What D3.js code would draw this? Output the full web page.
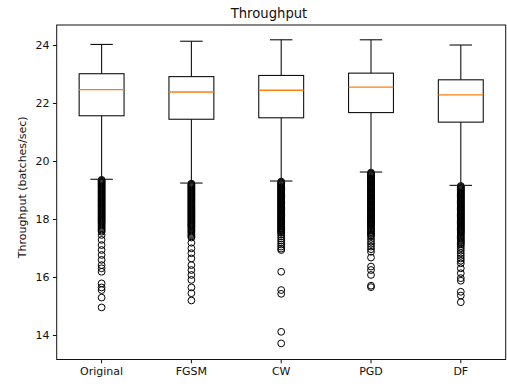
<!DOCTYPE html>
<html>
<head>
<meta charset="utf-8">
<script src="https://cdn.jsdelivr.net/npm/d3@7"></script>
<style>
  html, body { margin: 0; padding: 0; background: #fff; }
  svg { display: block; font-family: "DejaVu Sans", sans-serif; }
</style>
</head>
<body>
<svg id="chart" width="507" height="386"></svg>
<script>
const title = "Throughput";
const yLabel = "Throughput (batches/sec)";
const categories = ["Original", "FGSM", "CW", "PGD", "DF"];
const whiskerHigh = [24.02, 24.13, 24.18, 24.18, 24.00];
const q3Values    = [23.01, 22.91, 22.95, 23.03, 22.80];
const medians     = [22.46, 22.38, 22.44, 22.55, 22.28];
const q1Values    = [21.56, 21.44, 21.49, 21.67, 21.34];
const whiskerLow  = [19.37, 19.24, 19.31, 19.62, 19.16];
const yTicks = [14, 16, 18, 20, 22, 24];

const outliersOriginal = [19.35,19.32,19.29,19.26,19.23,19.20,19.17,19.14,19.11,19.08,19.05,19.02,18.99,18.96,18.93,18.90,18.87,18.84,18.81,18.78,18.75,18.72,18.69,18.66,18.63,18.60,18.57,18.54,18.51,18.48,18.45,18.42,18.39,18.36,18.33,18.30,18.27,18.24,18.21,18.18,18.15,18.12,18.09,18.06,18.03,18.00,17.97,17.94,17.91,17.88,17.84,17.80,17.76,17.72,17.68,17.64,17.60,17.56,17.45,17.28,17.10,16.93,16.76,16.59,16.41,16.30,16.18,15.78,15.64,15.55,15.29,14.95];
const outliersFGSM = [19.22,19.19,19.16,19.13,19.10,19.07,19.04,19.01,18.98,18.95,18.92,18.89,18.86,18.83,18.80,18.77,18.74,18.71,18.68,18.65,18.62,18.59,18.56,18.53,18.50,18.47,18.44,18.41,18.38,18.35,18.32,18.29,18.26,18.23,18.20,18.17,18.14,18.11,18.08,18.05,18.02,17.99,17.96,17.93,17.90,17.87,17.84,17.81,17.78,17.75,17.72,17.68,17.64,17.60,17.56,17.52,17.48,17.44,17.40,17.36,17.18,16.99,16.82,16.64,16.41,16.24,16.07,15.90,15.64,15.44,15.19];
const outliersCW = [19.29,19.26,19.23,19.20,19.17,19.14,19.11,19.08,19.05,19.02,18.99,18.96,18.93,18.90,18.87,18.84,18.81,18.78,18.75,18.72,18.69,18.66,18.63,18.60,18.57,18.54,18.51,18.48,18.45,18.42,18.39,18.36,18.33,18.30,18.27,18.24,18.21,18.18,18.15,18.12,18.09,18.06,18.03,18.00,17.97,17.94,17.91,17.88,17.85,17.82,17.79,17.76,17.73,17.70,17.67,17.64,17.61,17.58,17.55,17.52,17.46,17.40,17.33,17.26,17.19,17.12,17.05,16.98,16.93,16.18,15.55,15.42,14.11,13.71];
const outliersPGD = [19.60,19.57,19.54,19.51,19.48,19.45,19.42,19.39,19.36,19.33,19.30,19.27,19.24,19.21,19.18,19.15,19.12,19.09,19.06,19.03,19.00,18.97,18.94,18.91,18.88,18.85,18.82,18.79,18.76,18.73,18.70,18.67,18.64,18.61,18.58,18.55,18.52,18.49,18.46,18.43,18.40,18.37,18.34,18.31,18.28,18.25,18.22,18.19,18.16,18.13,18.10,18.07,18.04,18.01,17.98,17.95,17.92,17.89,17.86,17.83,17.80,17.76,17.72,17.68,17.64,17.60,17.56,17.52,17.48,17.44,17.40,17.31,17.22,17.14,17.05,16.96,16.87,16.67,16.36,16.24,16.07,15.70,15.65];
const outliersDF = [19.14,19.11,19.08,19.05,19.02,18.99,18.96,18.93,18.90,18.87,18.84,18.81,18.78,18.75,18.72,18.69,18.66,18.63,18.60,18.57,18.54,18.51,18.48,18.45,18.42,18.39,18.36,18.33,18.30,18.27,18.24,18.21,18.18,18.15,18.12,18.09,18.06,18.03,18.00,17.97,17.94,17.91,17.88,17.85,17.82,17.79,17.76,17.73,17.70,17.67,17.64,17.61,17.58,17.55,17.52,17.48,17.44,17.40,17.36,17.32,17.28,17.24,17.20,17.16,17.12,17.06,16.99,16.91,16.82,16.73,16.64,16.56,16.47,16.30,16.13,15.96,15.87,15.49,15.36,15.13];
const outliers = [outliersOriginal, outliersFGSM, outliersCW, outliersPGD, outliersDF];

const data = categories.map((c, i) => ({
  cat: c, hi: whiskerHigh[i], q3: q3Values[i], med: medians[i],
  q1: q1Values[i], lo: whiskerLow[i], out: outliers[i]
}));

const svg = d3.select("#chart");
const plotLeft = 56.7, plotRight = 505.7, plotTop = 25, plotBottom = 359.5;

const x = d3.scaleBand().domain(categories).range([plotLeft, plotRight]).padding(0);
const y = d3.scaleLinear().domain([13.155, 24.69]).range([plotBottom, plotTop]);
const bw = x.bandwidth();
const cx = c => x(c) + bw / 2;
const boxW = bw * 0.5;
const capW = boxW * 0.5;
const lineColor = "#111";

const g = svg.append("g");

// outliers
data.forEach(d => {
  g.selectAll(null).data(d.out).enter().append("circle")
    .attr("cx", cx(d.cat)).attr("cy", v => y(v)).attr("r", 3.4)
    .attr("fill", "none").attr("stroke", "#000").attr("stroke-width", 1);
});

const groups = g.selectAll("g.box").data(data).enter().append("g").attr("class", "box");
// whiskers
groups.append("line").attr("x1", d => cx(d.cat)).attr("x2", d => cx(d.cat))
  .attr("y1", d => y(d.hi)).attr("y2", d => y(d.q3)).attr("stroke", lineColor).attr("stroke-width", 1.1);
groups.append("line").attr("x1", d => cx(d.cat)).attr("x2", d => cx(d.cat))
  .attr("y1", d => y(d.q1)).attr("y2", d => y(d.lo)).attr("stroke", lineColor).attr("stroke-width", 1.1);
// caps
groups.append("line").attr("x1", d => cx(d.cat) - capW / 2).attr("x2", d => cx(d.cat) + capW / 2)
  .attr("y1", d => y(d.hi)).attr("y2", d => y(d.hi)).attr("stroke", lineColor).attr("stroke-width", 1.1);
groups.append("line").attr("x1", d => cx(d.cat) - capW / 2).attr("x2", d => cx(d.cat) + capW / 2)
  .attr("y1", d => y(d.lo)).attr("y2", d => y(d.lo)).attr("stroke", lineColor).attr("stroke-width", 1.1);
// box
groups.append("rect").attr("x", d => cx(d.cat) - boxW / 2).attr("width", boxW)
  .attr("y", d => y(d.q3)).attr("height", d => y(d.q1) - y(d.q3))
  .attr("fill", "none").attr("stroke", lineColor).attr("stroke-width", 1.1);
// median
groups.append("line").attr("x1", d => cx(d.cat) - boxW / 2).attr("x2", d => cx(d.cat) + boxW / 2)
  .attr("y1", d => y(d.med)).attr("y2", d => y(d.med)).attr("stroke", "#ff7f0e").attr("stroke-width", 1.3);

// frame
svg.append("rect").attr("x", plotLeft).attr("y", plotTop).attr("width", plotRight - plotLeft).attr("height", plotBottom - plotTop)
  .attr("fill", "none").attr("stroke", lineColor).attr("stroke-width", 1);

// axes
const yAxis = svg.append("g").attr("transform", `translate(${plotLeft},0)`)
  .call(d3.axisLeft(y).tickValues(yTicks).tickFormat(d3.format("d")).tickSize(3.8).tickPadding(3.5));
const xAxis = svg.append("g").attr("transform", `translate(0,${plotBottom})`)
  .call(d3.axisBottom(x).tickSize(3.8).tickPadding(3.5));
[yAxis, xAxis].forEach(a => {
  a.select(".domain").remove();
  a.selectAll(".tick line").attr("stroke", lineColor).attr("stroke-width", 1);
  a.selectAll(".tick text").attr("fill", "#111").style("font-size", "11px")
    .style("font-family", "'DejaVu Sans', sans-serif");
});

// title
svg.append("text").attr("x", 269).attr("y", 18).attr("text-anchor", "middle")
  .style("font-size", "13.2px").attr("fill", "#111").text(title);

// y label
svg.append("text").attr("transform", `translate(26,${(plotTop + plotBottom) / 2 - 5}) rotate(-90)`)
  .attr("text-anchor", "middle").style("font-size", "11px").attr("fill", "#111").text(yLabel);
</script>
</body>
</html>
